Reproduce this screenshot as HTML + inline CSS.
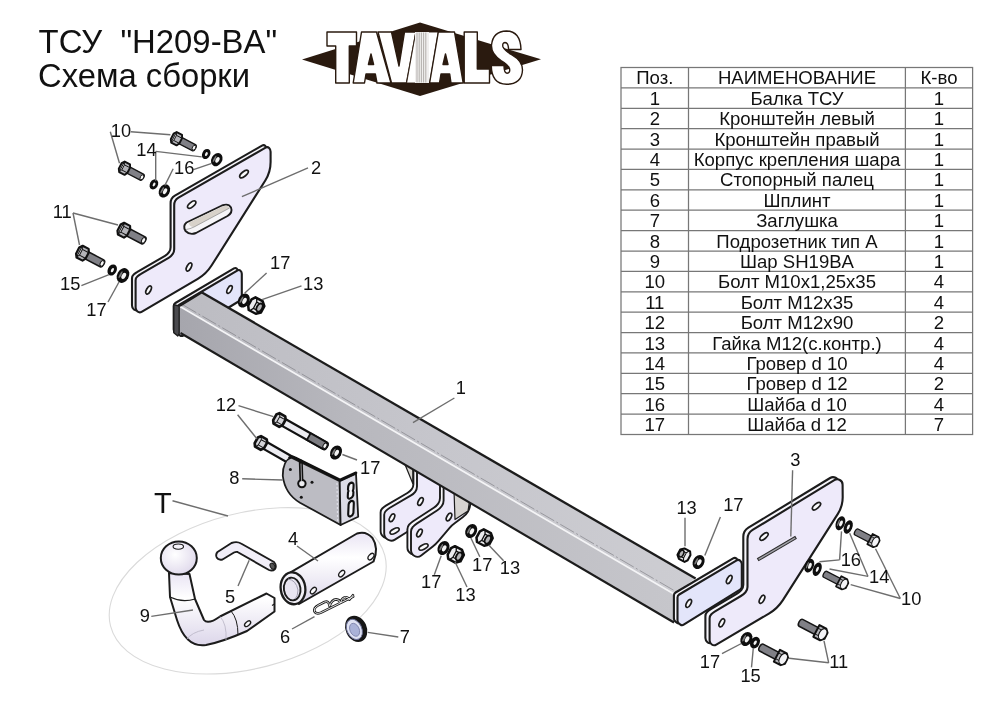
<!DOCTYPE html>
<html><head><meta charset="utf-8"><title>ТСУ H209-BA</title>
<style>html,body{margin:0;padding:0;background:#fff;}body{width:1000px;height:707px;overflow:hidden;font-family:"Liberation Sans",sans-serif;}svg{display:block;filter:blur(0.35px);}</style></head>
<body>
<svg width="1000" height="707" viewBox="0 0 1000 707" font-family="'Liberation Sans', sans-serif" fill="#111">
<defs>
<linearGradient id="gTop" x1="0" y1="0" x2="1" y2="0">
 <stop offset="0" stop-color="#bcbcc2"/><stop offset="0.5" stop-color="#c6c6cc"/><stop offset="1" stop-color="#cdcdd2"/>
</linearGradient>
<linearGradient id="gFront" x1="0" y1="0" x2="1" y2="0">
 <stop offset="0" stop-color="#a6a6ad"/><stop offset="0.35" stop-color="#b8b8be"/><stop offset="1" stop-color="#c6c6cb"/>
</linearGradient>
<linearGradient id="gTube" x1="0" y1="0" x2="0" y2="1">
 <stop offset="0" stop-color="#e9e4f4"/><stop offset="0.35" stop-color="#ffffff"/><stop offset="1" stop-color="#dcd6ea"/>
</linearGradient>
<radialGradient id="gBall" cx="0.4" cy="0.4" r="0.7">
 <stop offset="0" stop-color="#ffffff"/><stop offset="1" stop-color="#ddd6ea"/>
</radialGradient>
<!-- bolt: head at origin, shaft toward +x -->
<g id="bolt">
 <path d="M4 -4.3 L24 -4.3 A2.4 4.3 0 0 1 24 4.3 L4 4.3 Z" fill="#808086" stroke="#151515" stroke-width="1.7"/>
 <ellipse cx="24.2" cy="0" rx="2" ry="3.3" fill="#f6f6f6" stroke="#151515" stroke-width="1.1"/>
 <path d="M-4 -7.4 L3.5 -7.4 L5.5 -3.8 L5.5 3.8 L3.5 7.4 L-4 7.4 L-6.5 3.8 L-6.5 -3.8 Z" fill="#b4b4b9" stroke="#111" stroke-width="2.4" stroke-linejoin="round"/>
 <path d="M-4.2 -7 L-2.4 -3.6 L-2.4 3.6 L-4.2 7 Z" fill="#ececef" stroke="#111" stroke-width="1.1" stroke-linejoin="round"/>
 <path d="M-2.4 -3.6 L5 -3.6 M-2.4 3.6 L5 3.6" fill="none" stroke="#111" stroke-width="1.1"/>
</g>
<g id="boltR">
 <path d="M-25 -4.3 L-3 -4.3 L-3 4.3 L-25 4.3 A2.2 4.3 0 0 1 -25 -4.3 Z" fill="#808086" stroke="#151515" stroke-width="1.7"/>
 <path d="M-5.5 -7.4 L3 -7.4 L6.5 -3.8 L6.5 3.8 L3 7.4 L-5.5 7.4 Z" fill="#b4b4b9" stroke="#111" stroke-width="2.2" stroke-linejoin="round"/>
 <path d="M-5.5 -3.6 L0 -3.6 M-5.5 3.6 L0 3.6" stroke="#111" stroke-width="1"/>
 <ellipse cx="2.4" cy="0" rx="4" ry="6.6" fill="#f3f3f6" stroke="#111" stroke-width="1.3"/>
</g>
<g id="wS"><ellipse rx="4.2" ry="5.6" fill="#0e0e0e"/><ellipse cx="0.2" cy="0" rx="1.25" ry="2.2" fill="#f2f2f2"/></g>
<g id="wL"><ellipse rx="5.6" ry="7.4" fill="#0e0e0e"/><ellipse cx="-2.4" cy="0.4" rx="0.9" ry="3.6" fill="#7a7a7a"/><ellipse cx="0.8" cy="0" rx="1.9" ry="3.2" fill="#f4f4f4"/></g>
<g id="nut">
 <path d="M-5 -7.2 L3 -7.2 L7 -3.6 L7 3.6 L3 7.2 L-5 7.2 L-7.5 3.6 L-7.5 -3.6 Z" fill="#ececef" stroke="#0e0e0e" stroke-width="2.5" stroke-linejoin="round"/>
 <path d="M-3.4 -7 L-1.6 -3.5 L-1.6 3.5 L-3.4 7 M-1.6 -3.5 L6 -3.5 M-1.6 3.5 L6 3.5" fill="none" stroke="#0e0e0e" stroke-width="1.3"/>
 <ellipse cx="3.4" cy="0" rx="2.7" ry="4.4" fill="#b5b5b8" stroke="#0e0e0e" stroke-width="1.9"/>
</g>
</defs>
<ellipse cx="247.7" cy="590.8" rx="141.6" ry="77.8" transform="rotate(-14.45 247.7 590.8)" fill="none" stroke="#dadada" stroke-width="1.1"/>
<path d="M173.7 306.0 Q173.7 304.0 175.4 303.0 L234.0 268.4 Q235.6 267.5 236.9 268.8 L236.9 268.8 Q238.2 270.0 238.2 271.8 L238.2 295.5 Q238.2 297.5 236.5 298.5 L179.6 333.5 Q177.9 334.5 176.3 333.3 L175.3 332.7 Q173.7 331.5 173.7 329.5 Z" fill="#f7f6fb" stroke="#1c1c1c" stroke-width="2.1" stroke-linejoin="round"/>
<path d="M177.3 308.0 Q177.3 306.0 179.0 305.0 L237.6 270.4 Q239.2 269.5 240.5 270.8 L240.5 270.8 Q241.8 272.0 241.8 273.8 L241.8 297.5 Q241.8 299.5 240.1 300.5 L183.2 335.5 Q181.5 336.5 179.9 335.3 L178.9 334.7 Q177.3 333.5 177.3 331.5 Z" fill="#e3e5fa" stroke="#1c1c1c" stroke-width="2.1" stroke-linejoin="round"/>
<ellipse cx="229.5" cy="289.5" rx="2.0" ry="4.2" transform="rotate(28 229.5 289.5)" fill="#fbfbfd" stroke="#1c1c1c" stroke-width="1.7"/>
<path d="M404 462 L413 468 L413 484 Z" fill="#d9d6d2" stroke="#1c1c1c" stroke-width="1.2"/>
<path d="M413.4 461.6 Q413.4 457.6 416.9 459.5 L442.9 473.7 Q446.4 475.6 446.4 479.6 L446.4 493.6 Q446.4 497.6 443.3 500.1 L429.5 511.1 Q426.4 513.6 423.1 515.9 L409.7 525.3 Q406.4 527.6 403.0 529.8 L391.3 537.2 Q387.9 539.4 384.5 537.4 L384.0 537.1 Q380.6 535.1 380.6 531.1 L380.6 512.4 Q380.6 510.1 382.2 508.5 L382.2 508.5 Q383.9 506.8 385.9 505.6 L407.4 493.0 Q409.9 491.6 411.6 489.4 L411.6 489.4 Q413.4 487.1 413.4 484.2 Z" fill="#f7f6fb" stroke="#1c1c1c" stroke-width="1.9" stroke-linejoin="round"/>
<path d="M417.0 464.0 Q417.0 460.0 420.5 461.9 L446.5 476.1 Q450.0 478.0 450.0 482.0 L450.0 496.0 Q450.0 500.0 446.9 502.5 L433.1 513.5 Q430.0 516.0 426.7 518.3 L413.3 527.7 Q410.0 530.0 406.6 532.2 L394.9 539.6 Q391.5 541.8 388.1 539.8 L387.6 539.5 Q384.2 537.5 384.2 533.5 L384.2 514.8 Q384.2 512.5 385.9 510.9 L385.9 510.9 Q387.5 509.2 389.5 508.0 L411.0 495.4 Q413.5 494.0 415.2 491.8 L415.2 491.8 Q417.0 489.5 417.0 486.6 Z" fill="#eeeafa" stroke="#1c1c1c" stroke-width="1.9" stroke-linejoin="round"/>
<ellipse cx="420.5" cy="501.5" rx="2.1" ry="4.2" transform="rotate(28 420.5 501.5)" fill="#fbfbfd" stroke="#1c1c1c" stroke-width="1.7"/>
<ellipse cx="392.0" cy="517.8" rx="2.1" ry="4.2" transform="rotate(28 392.0 517.8)" fill="#fbfbfd" stroke="#1c1c1c" stroke-width="1.7"/>
<ellipse cx="394.6" cy="531.0" rx="2.2" ry="5.0" transform="rotate(62 394.6 531.0)" fill="#fbfbfd" stroke="#1c1c1c" stroke-width="1.7"/>
<path d="M440.0 481.6 Q440.0 477.6 443.4 479.7 L464.0 492.5 Q467.4 494.6 467.0 498.6 L466.8 501.6 Q466.4 505.6 464.4 509.1 L464.4 509.1 Q462.4 512.6 459.1 514.9 L451.7 520.3 Q448.4 522.6 445.8 525.7 L435.0 538.5 Q432.4 541.6 429.2 544.1 L417.6 553.1 Q414.4 555.6 410.9 553.6 L410.9 553.6 Q407.4 551.6 407.4 547.6 L407.4 529.3 Q407.4 526.6 409.1 524.6 L409.1 524.6 Q410.9 522.6 413.1 521.2 L433.8 507.8 Q436.4 506.1 438.2 503.6 L438.2 503.6 Q440.0 501.1 440.0 498.0 Z" fill="#f7f6fb" stroke="#1c1c1c" stroke-width="1.9" stroke-linejoin="round"/>
<path d="M443.6 484.0 Q443.6 480.0 447.0 482.1 L467.6 494.9 Q471.0 497.0 470.6 501.0 L470.4 504.0 Q470.0 508.0 468.0 511.5 L468.0 511.5 Q466.0 515.0 462.7 517.3 L455.3 522.7 Q452.0 525.0 449.4 528.1 L438.6 540.9 Q436.0 544.0 432.8 546.5 L421.2 555.5 Q418.0 558.0 414.5 556.0 L414.5 556.0 Q411.0 554.0 411.0 550.0 L411.0 531.7 Q411.0 529.0 412.8 527.0 L412.8 527.0 Q414.5 525.0 416.7 523.6 L437.4 510.2 Q440.0 508.5 441.8 506.0 L441.8 506.0 Q443.6 503.5 443.6 500.4 Z" fill="#eeeafa" stroke="#1c1c1c" stroke-width="1.9" stroke-linejoin="round"/>
<ellipse cx="449.0" cy="517.0" rx="2.1" ry="4.2" transform="rotate(28 449.0 517.0)" fill="#fbfbfd" stroke="#1c1c1c" stroke-width="1.7"/>
<ellipse cx="419.5" cy="533.0" rx="2.1" ry="4.2" transform="rotate(28 419.5 533.0)" fill="#fbfbfd" stroke="#1c1c1c" stroke-width="1.7"/>
<ellipse cx="423.5" cy="547.0" rx="2.2" ry="5.0" transform="rotate(62 423.5 547.0)" fill="#fbfbfd" stroke="#1c1c1c" stroke-width="1.7"/>
<path d="M454 490 L469.5 501 L468 511 L455 519.5 Z" fill="#d6d3d0" stroke="#1c1c1c" stroke-width="1.2" stroke-linejoin="round"/>
<path d="M180 306 L202 292.5 L695.6 578.5 L674 593.4 Z" fill="url(#gTop)" stroke="none"/>
<path d="M180 306 L674 593.4 L674 622.5 L180 333 Z" fill="url(#gFront)" stroke="none"/>
<path d="M182.5 304.6 L676 591.6" stroke="#6c6c72" stroke-width="0.7" stroke-opacity="0.75" stroke-dasharray="16 2.5 2 2.5" fill="none"/>
<path d="M202 292.5 L695.6 578.5" stroke="#1c1c1c" stroke-width="2.3" fill="none"/>
<path d="M180.5 333 L674 622.5" stroke="#1c1c1c" stroke-width="2.1" fill="none"/>
<path d="M180 306.6 L674 594" stroke="#f4f4f6" stroke-width="1.7" fill="none"/>
<path d="M180 306 L202 292.5" stroke="#1c1c1c" stroke-width="1.6" fill="none"/>
<path d="M173.8 304.6 L179.2 306 L179.2 333.2 L177.8 336 L173.8 332.8 Z" fill="#4a4a4e" stroke="#1c1c1c" stroke-width="1.4" stroke-linejoin="round"/>
<path d="M170.6 203.2 Q170.6 198.2 174.9 195.7 L262.0 145.6 Q263.9 144.5 265.4 146.0 L265.4 146.0 Q267.0 147.5 267.0 149.7 L267.0 160.0 Q267.0 170.0 261.7 178.5 L208.1 263.3 Q202.8 271.8 194.2 276.9 L138.0 309.8 Q135.9 311.0 134.0 309.5 L133.9 309.5 Q132.0 308.0 132.0 305.5 L132.0 278.3 Q132.0 276.0 133.7 274.5 L133.7 274.5 Q135.4 273.0 137.4 271.9 L165.0 255.9 Q167.4 254.5 169.0 252.2 L169.0 252.2 Q170.6 250.0 170.6 247.2 Z" fill="#f7f6fb" stroke="#1c1c1c" stroke-width="2.1" stroke-linejoin="round"/>
<path d="M174.2 205.2 Q174.2 200.2 178.5 197.7 L265.6 147.6 Q267.5 146.5 269.1 148.0 L269.1 148.0 Q270.6 149.5 270.6 151.7 L270.6 162.0 Q270.6 172.0 265.3 180.5 L211.7 265.3 Q206.4 273.8 197.8 278.9 L141.6 311.8 Q139.5 313.0 137.6 311.5 L137.5 311.5 Q135.6 310.0 135.6 307.5 L135.6 280.3 Q135.6 278.0 137.3 276.5 L137.3 276.5 Q139.0 275.0 141.0 273.9 L168.6 257.9 Q171.0 256.5 172.6 254.2 L172.6 254.2 Q174.2 252.0 174.2 249.2 Z" fill="#eeeafa" stroke="#1c1c1c" stroke-width="2.1" stroke-linejoin="round"/>
<ellipse cx="244.0" cy="174.0" rx="2.3" ry="5.2" transform="rotate(50 244.0 174.0)" fill="#fbfbfd" stroke="#1c1c1c" stroke-width="1.7"/>
<ellipse cx="191.7" cy="204.6" rx="2.3" ry="5.0" transform="rotate(50 191.7 204.6)" fill="#fbfbfd" stroke="#1c1c1c" stroke-width="1.7"/>
<ellipse cx="189.0" cy="267.0" rx="2.1" ry="4.4" transform="rotate(28 189.0 267.0)" fill="#fbfbfd" stroke="#1c1c1c" stroke-width="1.7"/>
<ellipse cx="148.6" cy="290.0" rx="2.1" ry="4.4" transform="rotate(28 148.6 290.0)" fill="#fbfbfd" stroke="#1c1c1c" stroke-width="1.7"/>
<path d="M186.5 222.5 L222 205.5 Q228.5 203 231 207.5 Q233 212.5 227.5 216 L196 233 Q190 235.5 185.5 231 Q182.5 226 186.5 222.5 Z" fill="#f6f5f8" stroke="#1c1c1c" stroke-width="1.9" stroke-linejoin="round"/>
<path d="M188.5 222.8 L223 206.3 Q228 204.6 229.6 208 L194 227 Q189.6 227 188.5 222.8 Z" fill="#d8d2ca" stroke="none"/>
<path d="M186 229.5 Q190 229 194 227 L229.6 208" fill="none" stroke="#8a8a8a" stroke-width="0.7"/>
<path d="M673.9 595.5 Q673.9 593.5 675.6 592.5 L733.1 558.4 Q734.9 557.3 736.5 558.6 L736.5 558.6 Q738.2 560.0 738.2 562.1 L738.2 584.5 Q738.2 586.5 736.5 587.6 L680.1 622.7 Q678.4 623.8 676.8 622.6 L675.5 621.7 Q673.9 620.5 673.9 618.5 Z" fill="#f7f6fb" stroke="#1c1c1c" stroke-width="2.1" stroke-linejoin="round"/>
<path d="M677.5 597.5 Q677.5 595.5 679.2 594.5 L736.7 560.4 Q738.5 559.3 740.1 560.6 L740.1 560.6 Q741.8 562.0 741.8 564.1 L741.8 586.5 Q741.8 588.5 740.1 589.6 L683.7 624.7 Q682.0 625.8 680.4 624.6 L679.1 623.7 Q677.5 622.5 677.5 620.5 Z" fill="#e3e5fa" stroke="#1c1c1c" stroke-width="2.1" stroke-linejoin="round"/>
<ellipse cx="688.7" cy="603.4" rx="2.1" ry="4.4" transform="rotate(28 688.7 603.4)" fill="#fbfbfd" stroke="#1c1c1c" stroke-width="1.7"/>
<ellipse cx="729.2" cy="579.5" rx="2.1" ry="4.4" transform="rotate(28 729.2 579.5)" fill="#fbfbfd" stroke="#1c1c1c" stroke-width="1.7"/>
<path d="M743.3 536.8 Q743.3 530.8 748.4 527.7 L830.1 478.0 Q832.8 476.3 835.6 477.8 L835.6 477.8 Q838.4 479.3 838.4 482.5 L838.5 494.8 Q838.6 503.8 833.8 511.4 L778.7 597.9 Q773.3 606.3 764.7 611.4 L712.1 642.4 Q709.8 643.8 707.6 642.3 L707.6 642.3 Q705.4 640.8 705.4 638.1 L705.4 616.2 Q705.4 613.8 707.1 612.0 L707.1 612.0 Q708.8 610.3 710.9 609.1 L736.7 593.8 Q739.3 592.3 741.3 590.0 L741.3 590.0 Q743.3 587.8 743.3 584.8 Z" fill="#f7f6fb" stroke="#1c1c1c" stroke-width="2.1" stroke-linejoin="round"/>
<path d="M747.5 539.0 Q747.5 533.0 752.6 529.9 L834.3 480.2 Q837.0 478.5 839.8 480.0 L839.8 480.0 Q842.6 481.5 842.6 484.7 L842.7 497.0 Q842.8 506.0 838.0 513.6 L782.9 600.1 Q777.5 608.5 768.9 613.6 L716.3 644.6 Q714.0 646.0 711.8 644.5 L711.8 644.5 Q709.6 643.0 709.6 640.3 L709.6 618.4 Q709.6 616.0 711.3 614.2 L711.3 614.2 Q713.0 612.5 715.1 611.3 L740.9 596.0 Q743.5 594.5 745.5 592.2 L745.5 592.2 Q747.5 590.0 747.5 587.0 Z" fill="#eeeafa" stroke="#1c1c1c" stroke-width="2.1" stroke-linejoin="round"/>
<ellipse cx="816.5" cy="506.2" rx="2.3" ry="5.0" transform="rotate(50 816.5 506.2)" fill="#fbfbfd" stroke="#1c1c1c" stroke-width="1.7"/>
<ellipse cx="764.0" cy="536.5" rx="2.3" ry="5.0" transform="rotate(50 764.0 536.5)" fill="#fbfbfd" stroke="#1c1c1c" stroke-width="1.7"/>
<ellipse cx="762.0" cy="599.3" rx="2.1" ry="4.4" transform="rotate(28 762.0 599.3)" fill="#fbfbfd" stroke="#1c1c1c" stroke-width="1.7"/>
<ellipse cx="721.8" cy="622.8" rx="2.1" ry="4.4" transform="rotate(28 721.8 622.8)" fill="#fbfbfd" stroke="#1c1c1c" stroke-width="1.7"/>
<path d="M757.5 558.5 L795 536.5 L796.2 538.6 L758.7 560.6 Z" fill="#a4a4aa" stroke="#2e2e2e" stroke-width="1.1"/>
<g transform="translate(261.5 443.3) rotate(29.8)"><path d="M3 -3.8 L38.6 -3.8 A2.2 3.8 0 0 1 38.6 3.8 L3 3.8 Z" fill="#ececf1" stroke="#111" stroke-width="2.2"/><path d="M-4 -6 L2.6 -6 L4.6 -3.2 L4.6 3.2 L2.6 6 L-4 6 L-6 3.2 L-6 -3.2 Z" fill="#d4d4d9" stroke="#111" stroke-width="2.7" stroke-linejoin="round"/><path d="M-3.4 -5.6 L-2 -3 L-2 3 L-3.4 5.6 M-2 -3 L4 -3 M-2 3 L4 3" fill="none" stroke="#111" stroke-width="1"/></g>
<g transform="translate(280.0 420.3) rotate(29.5)"><path d="M3 -3.8 L51.7 -3.8 A2.2 3.8 0 0 1 51.7 3.8 L3 3.8 Z" fill="#ececf1" stroke="#111" stroke-width="2.2"/><path d="M33.0 -3.8 L51.7 -3.8 A2.2 3.8 0 0 1 51.7 3.8 L33.0 3.8 Z" fill="#7d7d82" stroke="#111" stroke-width="1.8"/><ellipse cx="51.7" cy="0" rx="1.8" ry="2.9" fill="#f4f4f4" stroke="#111" stroke-width="1"/><path d="M-4 -6 L2.6 -6 L4.6 -3.2 L4.6 3.2 L2.6 6 L-4 6 L-6 3.2 L-6 -3.2 Z" fill="#d4d4d9" stroke="#111" stroke-width="2.7" stroke-linejoin="round"/><path d="M-3.4 -5.6 L-2 -3 L-2 3 L-3.4 5.6 M-2 -3 L4 -3 M-2 3 L4 3" fill="none" stroke="#111" stroke-width="1"/></g>
<use href="#wL" transform="translate(336.0 452.5) rotate(28.0) scale(1.00)"/>
<path d="M291 457.5 L339.7 481.2 L340.6 525 L300 502.7 Q285 494 282.8 476 Q282.6 461 291 457.5 Z" fill="#bcbcc3" stroke="#1c1c1c" stroke-width="1.8" stroke-linejoin="round"/>
<path d="M339.7 481.2 L356 473.8 L358.2 516.8 L340.6 525 Z" fill="#dcdce6" stroke="#1c1c1c" stroke-width="1.8" stroke-linejoin="round"/>
<path d="M337 483 L337.6 522" stroke="#dfdfe8" stroke-width="1.2" stroke-dasharray="2 2"/>
<path d="M289.5 457.6 Q292 456 295 457.8 L340 480 L356 472.8" fill="none" stroke="#111" stroke-width="2.7" stroke-linejoin="round" stroke-linecap="round"/>
<path d="M348.2 486.5 Q348.6 483.6 351.4 482.6 Q353.8 482.6 353.6 485.6 L353.4 489 Q352.4 490.6 353.4 492 L353.2 495.4 Q352.4 498 349.6 498.8 Q347.4 498.6 347.8 496 L348 492.4 Q349 491 348 489.6 Z" fill="#f3f3f7" stroke="#111" stroke-width="2.1" stroke-linejoin="round"/>
<path d="M348.6 504.6 Q349 501.8 351.6 500.8 Q354 500.8 353.8 503.6 L353.4 513 Q352.8 515.8 350.2 516.6 Q348 516.4 348.2 513.8 Z" fill="#f3f3f7" stroke="#111" stroke-width="2.1" stroke-linejoin="round"/>
<path d="M300.8 461.5 L301.4 480" stroke="#111" stroke-width="4" stroke-linecap="round"/>
<circle cx="301.9" cy="483.6" r="3.7" fill="#ededf1" stroke="#111" stroke-width="2"/>
<path d="M301 464 L301.6 481.5" stroke="#d0d0d6" stroke-width="0.7" stroke-linecap="round"/>
<circle cx="290.4" cy="469.6" r="1.5" fill="#151515"/>
<circle cx="312.0" cy="482.3" r="1.5" fill="#151515"/>
<circle cx="301.3" cy="497.3" r="1.5" fill="#151515"/>
<path d="M169 573 L170 597 L177 620 Q186 648 206 645 Q222 642 247 631 L274.5 611.5 L274.5 598 L266.5 593.5 L220 616.5 Q208 625 204 620 L195 599 L189.5 574 Z" fill="url(#gTube)" stroke="#1c1c1c" stroke-width="2.0" stroke-linejoin="round"/>
<path d="M170 597 Q182 603 195 599" fill="none" stroke="#1c1c1c" stroke-width="1.3"/>
<path d="M186 640 Q192 632 204 630" fill="none" stroke="#b8b4c4" stroke-width="0.8"/>
<path d="M220 616.5 Q227 624 226 640" fill="none" stroke="#b8b4c4" stroke-width="0.8"/>
<path d="M231 611 Q238 619 238 635" fill="none" stroke="#1c1c1c" stroke-width="1.0"/>
<ellipse cx="178.8" cy="558" rx="18" ry="16.6" fill="url(#gBall)" stroke="#1c1c1c" stroke-width="2.0"/>
<ellipse cx="178.3" cy="546.6" rx="5.2" ry="2.6" fill="#f6f4fa" stroke="#1c1c1c" stroke-width="1.1"/>
<ellipse cx="247.6" cy="623.7" rx="2.0" ry="3.6" transform="rotate(50 247.6 623.7)" fill="#fbfbfd" stroke="#1c1c1c" stroke-width="1.3"/>
<path d="M274.5 604 L272 605.5" stroke="#1c1c1c" stroke-width="1.3"/>
<path d="M217.5 552 L231.5 543 Q237 541 241 543.5 L274 562 Q277 565.5 275 569 Q272.5 571.5 269 570 L237.5 552 Q236 551.5 234 552.5 L222.5 559.5 Q218 560.5 216.5 557 Q215.5 554 217.5 552 Z" fill="#f1eef8" stroke="#1c1c1c" stroke-width="1.9" stroke-linejoin="round"/>
<ellipse cx="272.5" cy="566.2" rx="2.2" ry="3.2" transform="rotate(-30 272.5 566.2)" fill="#555" stroke="#1c1c1c" stroke-width="1"/>
<path d="M290.5 572.4 L357 533.5 Q366 530.5 372.5 538 Q379 548 373.5 561.5 L299 604 Z" fill="url(#gTube)" stroke="#1c1c1c" stroke-width="2.0" stroke-linejoin="round"/>
<ellipse cx="293" cy="588.3" rx="12.3" ry="16" transform="rotate(-8 293 588.3)" fill="#f3f1f8" stroke="#1c1c1c" stroke-width="2.3"/>
<ellipse cx="292.2" cy="589" rx="8.3" ry="11.4" transform="rotate(-8 292.2 589)" fill="#e9e5f1" stroke="#1c1c1c" stroke-width="1.9"/>
<path d="M288 579 Q296 580 298 590 Q298 596 295 599" fill="none" stroke="#9a96a8" stroke-width="0.9"/>
<ellipse cx="313.4" cy="590.6" rx="2.2" ry="3.8" transform="rotate(40 313.4 590.6)" fill="#fbfbfd" stroke="#1c1c1c" stroke-width="1.3"/>
<ellipse cx="341.7" cy="573.6" rx="2.2" ry="3.8" transform="rotate(40 341.7 573.6)" fill="#fbfbfd" stroke="#1c1c1c" stroke-width="1.3"/>
<ellipse cx="371.0" cy="556.6" rx="2.2" ry="3.8" transform="rotate(40 371.0 556.6)" fill="#fbfbfd" stroke="#1c1c1c" stroke-width="1.3"/>
<path d="M353.2 596.6 L321 612.6 Q316 614.6 314.4 611.4 Q313.6 607.6 318 605.4 L324.6 602 Q329 600.4 329.6 606.2 Q331.6 599.6 336.2 599.4 Q340 599.6 340.4 603 Q342 597.2 345.4 597.2 Q348.8 597.2 349.4 599.8 L353 595.2" fill="none" stroke="#1e1e1e" stroke-width="2.6" stroke-linejoin="round" stroke-linecap="round"/>
<path d="M353.2 596.6 L321 612.6 Q316 614.6 314.4 611.4 Q313.6 607.6 318 605.4 L324.6 602 Q329 600.4 329.6 606.2 Q331.6 599.6 336.2 599.4 Q340 599.6 340.4 603 Q342 597.2 345.4 597.2 Q348.8 597.2 349.4 599.8 L353 595.2" fill="none" stroke="#f4f4f4" stroke-width="0.9" stroke-linejoin="round" stroke-linecap="round"/>
<ellipse cx="356.2" cy="628.8" rx="10.6" ry="13.6" transform="rotate(-25 356.2 628.8)" fill="#161616"/>
<ellipse cx="354.4" cy="629.4" rx="7.4" ry="10.6" transform="rotate(-25 354.4 629.4)" fill="#dfe2f3" stroke="#6a6f95" stroke-width="0.9"/>
<ellipse cx="354.6" cy="629.8" rx="4.6" ry="6.8" transform="rotate(-25 354.6 629.8)" fill="#aab2d8" stroke="#7a80a8" stroke-width="0.8"/>
<use href="#bolt" transform="translate(176.8 138.8) rotate(27.5) scale(0.80)"/>
<use href="#bolt" transform="translate(124.8 168.3) rotate(27.5) scale(0.80)"/>
<use href="#wS" transform="translate(206.2 154.0) rotate(28.0) scale(0.95)"/>
<use href="#wL" transform="translate(216.8 159.6) rotate(28.0) scale(0.95)"/>
<use href="#wS" transform="translate(153.9 184.4) rotate(28.0) scale(0.95)"/>
<use href="#wL" transform="translate(164.4 190.9) rotate(28.0) scale(0.95)"/>
<use href="#bolt" transform="translate(124.2 230.3) rotate(27.5) scale(0.90)"/>
<use href="#bolt" transform="translate(82.8 253.3) rotate(27.5) scale(0.90)"/>
<use href="#wS" transform="translate(112.2 270.0) rotate(28.0) scale(1.05)"/>
<use href="#wL" transform="translate(123.0 275.5) rotate(28.0) scale(1.05)"/>
<use href="#wL" transform="translate(243.8 300.5) rotate(28.0) scale(1.00)"/>
<use href="#nut" transform="translate(256.5 306.0) rotate(28.0) scale(1.00)"/>
<use href="#wL" transform="translate(471.2 531.0) rotate(28.0) scale(1.00)"/>
<use href="#nut" transform="translate(484.8 538.0) rotate(28.0) scale(1.00)"/>
<use href="#wL" transform="translate(443.5 548.0) rotate(28.0) scale(1.00)"/>
<use href="#nut" transform="translate(456.0 554.9) rotate(28.0) scale(1.00)"/>
<g transform="translate(683.8 554.8) rotate(28) scale(-0.8 0.82)"><use href="#nut"/></g>
<use href="#wL" transform="translate(698.6 562.0) rotate(28.0) scale(1.00)"/>
<use href="#wL" transform="translate(840.4 523.2) rotate(22.0) scale(0.80 0.98)"/>
<use href="#wS" transform="translate(848.2 527.0) rotate(22.0) scale(0.98 1.25)"/>
<use href="#boltR" transform="translate(873.8 541.0) rotate(27.5) scale(0.78)"/>
<use href="#wL" transform="translate(809.3 565.6) rotate(22.0) scale(0.80 0.98)"/>
<use href="#wS" transform="translate(817.2 569.2) rotate(22.0) scale(0.98 1.25)"/>
<use href="#boltR" transform="translate(842.5 583.3) rotate(27.5) scale(0.78)"/>
<use href="#boltR" transform="translate(820.8 633.2) rotate(27.5) scale(0.90)"/>
<use href="#boltR" transform="translate(781.3 658.0) rotate(27.5) scale(0.90)"/>
<use href="#wL" transform="translate(746.4 639.0) rotate(28.0) scale(1.00)"/>
<use href="#wS" transform="translate(755.0 642.6) rotate(28.0) scale(1.10)"/>
<line x1="130.9" y1="131.7" x2="170.4" y2="134.8" stroke="#6e6e6e" stroke-width="1.4"/>
<line x1="110.3" y1="131.7" x2="119.5" y2="163.3" stroke="#6e6e6e" stroke-width="1.4"/>
<line x1="155.7" y1="151.4" x2="201.7" y2="156.9" stroke="#6e6e6e" stroke-width="1.4"/>
<line x1="155.7" y1="151.4" x2="155.7" y2="180.8" stroke="#6e6e6e" stroke-width="1.4"/>
<line x1="193.4" y1="169.7" x2="211.8" y2="163.3" stroke="#6e6e6e" stroke-width="1.4"/>
<line x1="173.2" y1="168.8" x2="164.9" y2="185.4" stroke="#6e6e6e" stroke-width="1.4"/>
<line x1="73.0" y1="213.0" x2="118.0" y2="225.0" stroke="#6e6e6e" stroke-width="1.4"/>
<line x1="73.0" y1="213.0" x2="79.5" y2="245.0" stroke="#6e6e6e" stroke-width="1.4"/>
<line x1="81.4" y1="285.6" x2="109.0" y2="274.6" stroke="#6e6e6e" stroke-width="1.4"/>
<line x1="108.0" y1="302.0" x2="119.0" y2="282.0" stroke="#6e6e6e" stroke-width="1.4"/>
<line x1="308.0" y1="167.9" x2="241.9" y2="196.7" stroke="#6e6e6e" stroke-width="1.4"/>
<line x1="266.6" y1="273.0" x2="244.6" y2="293.2" stroke="#6e6e6e" stroke-width="1.4"/>
<line x1="301.5" y1="285.8" x2="262.0" y2="299.6" stroke="#6e6e6e" stroke-width="1.4"/>
<line x1="454.4" y1="398.0" x2="413.0" y2="422.7" stroke="#6e6e6e" stroke-width="1.4"/>
<line x1="238.5" y1="405.6" x2="273.4" y2="416.7" stroke="#6e6e6e" stroke-width="1.4"/>
<line x1="237.6" y1="414.8" x2="256.9" y2="438.7" stroke="#6e6e6e" stroke-width="1.4"/>
<line x1="242.2" y1="478.8" x2="282.6" y2="480.0" stroke="#6e6e6e" stroke-width="1.4"/>
<line x1="342.4" y1="454.5" x2="357.0" y2="460.0" stroke="#6e6e6e" stroke-width="1.4"/>
<line x1="172.5" y1="500.8" x2="228.0" y2="516.0" stroke="#6e6e6e" stroke-width="1.4"/>
<line x1="297.0" y1="546.0" x2="318.0" y2="561.0" stroke="#6e6e6e" stroke-width="1.4"/>
<line x1="238.0" y1="586.0" x2="249.2" y2="560.2" stroke="#6e6e6e" stroke-width="1.4"/>
<line x1="151.3" y1="616.4" x2="193.0" y2="610.0" stroke="#6e6e6e" stroke-width="1.4"/>
<line x1="292.0" y1="629.0" x2="314.5" y2="616.6" stroke="#6e6e6e" stroke-width="1.4"/>
<line x1="367.7" y1="632.4" x2="398.3" y2="637.0" stroke="#6e6e6e" stroke-width="1.4"/>
<line x1="470.9" y1="538.0" x2="479.8" y2="556.8" stroke="#6e6e6e" stroke-width="1.4"/>
<line x1="488.7" y1="545.0" x2="503.6" y2="560.8" stroke="#6e6e6e" stroke-width="1.4"/>
<line x1="441.2" y1="555.8" x2="434.3" y2="574.7" stroke="#6e6e6e" stroke-width="1.4"/>
<line x1="455.0" y1="561.8" x2="467.0" y2="587.0" stroke="#6e6e6e" stroke-width="1.4"/>
<line x1="685.0" y1="517.8" x2="685.0" y2="546.3" stroke="#6e6e6e" stroke-width="1.4"/>
<line x1="720.4" y1="516.9" x2="704.8" y2="555.5" stroke="#6e6e6e" stroke-width="1.4"/>
<line x1="792.6" y1="470.3" x2="790.8" y2="536.5" stroke="#6e6e6e" stroke-width="1.4"/>
<line x1="839.6" y1="559.9" x2="841.5" y2="531.4" stroke="#6e6e6e" stroke-width="1.4"/>
<line x1="839.6" y1="559.9" x2="819.4" y2="561.7" stroke="#6e6e6e" stroke-width="1.4"/>
<line x1="868.0" y1="576.4" x2="849.7" y2="533.2" stroke="#6e6e6e" stroke-width="1.4"/>
<line x1="868.0" y1="576.4" x2="829.5" y2="569.0" stroke="#6e6e6e" stroke-width="1.4"/>
<line x1="900.3" y1="598.5" x2="875.5" y2="548.8" stroke="#6e6e6e" stroke-width="1.4"/>
<line x1="900.3" y1="598.5" x2="850.7" y2="584.7" stroke="#6e6e6e" stroke-width="1.4"/>
<line x1="722.0" y1="653.6" x2="741.4" y2="643.5" stroke="#6e6e6e" stroke-width="1.4"/>
<line x1="751.5" y1="667.4" x2="753.3" y2="648.0" stroke="#6e6e6e" stroke-width="1.4"/>
<line x1="828.7" y1="662.8" x2="824.0" y2="640.8" stroke="#6e6e6e" stroke-width="1.4"/>
<line x1="828.7" y1="662.8" x2="789.0" y2="658.2" stroke="#6e6e6e" stroke-width="1.4"/>
<text x="121.0" y="136.6" font-size="18.3" text-anchor="middle">10</text>
<text x="146.5" y="156.2" font-size="18.3" text-anchor="middle">14</text>
<text x="184.2" y="174.4" font-size="18.3" text-anchor="middle">16</text>
<text x="62.2" y="217.6" font-size="18.3" text-anchor="middle">11</text>
<text x="70.2" y="290.1" font-size="18.3" text-anchor="middle">15</text>
<text x="96.5" y="315.9" font-size="18.3" text-anchor="middle">17</text>
<text x="316.2" y="173.8" font-size="18.3" text-anchor="middle">2</text>
<text x="280.2" y="269.2" font-size="18.3" text-anchor="middle">17</text>
<text x="313.2" y="290.3" font-size="18.3" text-anchor="middle">13</text>
<text x="460.8" y="394.1" font-size="18.3" text-anchor="middle">1</text>
<text x="225.9" y="411.0" font-size="18.3" text-anchor="middle">12</text>
<text x="234.4" y="483.6" font-size="18.3" text-anchor="middle">8</text>
<text x="370.2" y="473.5" font-size="18.3" text-anchor="middle">17</text>
<text x="293.2" y="544.9" font-size="18.3" text-anchor="middle">4</text>
<text x="230.0" y="602.6" font-size="18.3" text-anchor="middle">5</text>
<text x="144.9" y="621.9" font-size="18.3" text-anchor="middle">9</text>
<text x="285.2" y="642.6" font-size="18.3" text-anchor="middle">6</text>
<text x="404.9" y="642.6" font-size="18.3" text-anchor="middle">7</text>
<text x="482.2" y="571.4" font-size="18.3" text-anchor="middle">17</text>
<text x="509.9" y="574.4" font-size="18.3" text-anchor="middle">13</text>
<text x="431.2" y="588.4" font-size="18.3" text-anchor="middle">17</text>
<text x="465.5" y="601.3" font-size="18.3" text-anchor="middle">13</text>
<text x="686.6" y="513.9" font-size="18.3" text-anchor="middle">13</text>
<text x="733.3" y="511.1" font-size="18.3" text-anchor="middle">17</text>
<text x="795.4" y="465.5" font-size="18.3" text-anchor="middle">3</text>
<text x="850.8" y="566.1" font-size="18.3" text-anchor="middle">16</text>
<text x="879.2" y="582.7" font-size="18.3" text-anchor="middle">14</text>
<text x="911.2" y="604.7" font-size="18.3" text-anchor="middle">10</text>
<text x="710.0" y="668.1" font-size="18.3" text-anchor="middle">17</text>
<text x="750.6" y="681.9" font-size="18.3" text-anchor="middle">15</text>
<text x="838.8" y="668.1" font-size="18.3" text-anchor="middle">11</text>
<text x="153.9" y="512.8" font-size="29">T</text>
<g stroke="#777777" stroke-width="1.25" fill="none">
<rect x="621.0" y="67.5" width="351.6" height="367.0" fill="#fff"/>
<line x1="621.0" y1="87.89" x2="972.6" y2="87.89"/>
<line x1="621.0" y1="108.28" x2="972.6" y2="108.28"/>
<line x1="621.0" y1="128.67" x2="972.6" y2="128.67"/>
<line x1="621.0" y1="149.06" x2="972.6" y2="149.06"/>
<line x1="621.0" y1="169.45" x2="972.6" y2="169.45"/>
<line x1="621.0" y1="189.84" x2="972.6" y2="189.84"/>
<line x1="621.0" y1="210.23" x2="972.6" y2="210.23"/>
<line x1="621.0" y1="230.62" x2="972.6" y2="230.62"/>
<line x1="621.0" y1="251.01" x2="972.6" y2="251.01"/>
<line x1="621.0" y1="271.40" x2="972.6" y2="271.40"/>
<line x1="621.0" y1="291.79" x2="972.6" y2="291.79"/>
<line x1="621.0" y1="312.18" x2="972.6" y2="312.18"/>
<line x1="621.0" y1="332.57" x2="972.6" y2="332.57"/>
<line x1="621.0" y1="352.96" x2="972.6" y2="352.96"/>
<line x1="621.0" y1="373.35" x2="972.6" y2="373.35"/>
<line x1="621.0" y1="393.74" x2="972.6" y2="393.74"/>
<line x1="621.0" y1="414.13" x2="972.6" y2="414.13"/>
<line x1="688.5" y1="67.5" x2="688.5" y2="434.5"/>
<line x1="905.4" y1="67.5" x2="905.4" y2="434.5"/>
</g>
<g font-size="18.3" text-anchor="middle">
<text transform="translate(654.8 84.49) scale(1.015 1)">Поз.</text>
<text transform="translate(797.0 84.49) scale(1.015 1)">НАИМЕНОВАНИЕ</text>
<text transform="translate(939.0 84.49) scale(1.015 1)">К-во</text>
<text transform="translate(654.8 104.88) scale(1.015 1)">1</text>
<text transform="translate(797.0 104.88) scale(1.015 1)">Балка ТСУ</text>
<text transform="translate(939.0 104.88) scale(1.015 1)">1</text>
<text transform="translate(654.8 125.27) scale(1.015 1)">2</text>
<text transform="translate(797.0 125.27) scale(1.015 1)">Кронштейн левый</text>
<text transform="translate(939.0 125.27) scale(1.015 1)">1</text>
<text transform="translate(654.8 145.66) scale(1.015 1)">3</text>
<text transform="translate(797.0 145.66) scale(1.015 1)">Кронштейн правый</text>
<text transform="translate(939.0 145.66) scale(1.015 1)">1</text>
<text transform="translate(654.8 166.05) scale(1.015 1)">4</text>
<text transform="translate(797.0 166.05) scale(1.015 1)">Корпус крепления шара</text>
<text transform="translate(939.0 166.05) scale(1.015 1)">1</text>
<text transform="translate(654.8 186.44) scale(1.015 1)">5</text>
<text transform="translate(797.0 186.44) scale(1.015 1)">Стопорный палец</text>
<text transform="translate(939.0 186.44) scale(1.015 1)">1</text>
<text transform="translate(654.8 206.83) scale(1.015 1)">6</text>
<text transform="translate(797.0 206.83) scale(1.015 1)">Шплинт</text>
<text transform="translate(939.0 206.83) scale(1.015 1)">1</text>
<text transform="translate(654.8 227.22) scale(1.015 1)">7</text>
<text transform="translate(797.0 227.22) scale(1.015 1)">Заглушка</text>
<text transform="translate(939.0 227.22) scale(1.015 1)">1</text>
<text transform="translate(654.8 247.61) scale(1.015 1)">8</text>
<text transform="translate(797.0 247.61) scale(1.015 1)">Подрозетник тип А</text>
<text transform="translate(939.0 247.61) scale(1.015 1)">1</text>
<text transform="translate(654.8 268.00) scale(1.015 1)">9</text>
<text transform="translate(797.0 268.00) scale(1.015 1)">Шар SH19BA</text>
<text transform="translate(939.0 268.00) scale(1.015 1)">1</text>
<text transform="translate(654.8 288.39) scale(1.015 1)">10</text>
<text transform="translate(797.0 288.39) scale(1.015 1)">Болт М10х1,25х35</text>
<text transform="translate(939.0 288.39) scale(1.015 1)">4</text>
<text transform="translate(654.8 308.78) scale(1.015 1)">11</text>
<text transform="translate(797.0 308.78) scale(1.015 1)">Болт М12х35</text>
<text transform="translate(939.0 308.78) scale(1.015 1)">4</text>
<text transform="translate(654.8 329.17) scale(1.015 1)">12</text>
<text transform="translate(797.0 329.17) scale(1.015 1)">Болт М12х90</text>
<text transform="translate(939.0 329.17) scale(1.015 1)">2</text>
<text transform="translate(654.8 349.56) scale(1.015 1)">13</text>
<text transform="translate(797.0 349.56) scale(1.015 1)">Гайка М12(с.контр.)</text>
<text transform="translate(939.0 349.56) scale(1.015 1)">4</text>
<text transform="translate(654.8 369.95) scale(1.015 1)">14</text>
<text transform="translate(797.0 369.95) scale(1.015 1)">Гровер d 10</text>
<text transform="translate(939.0 369.95) scale(1.015 1)">4</text>
<text transform="translate(654.8 390.34) scale(1.015 1)">15</text>
<text transform="translate(797.0 390.34) scale(1.015 1)">Гровер d 12</text>
<text transform="translate(939.0 390.34) scale(1.015 1)">2</text>
<text transform="translate(654.8 410.73) scale(1.015 1)">16</text>
<text transform="translate(797.0 410.73) scale(1.015 1)">Шайба d 10</text>
<text transform="translate(939.0 410.73) scale(1.015 1)">4</text>
<text transform="translate(654.8 431.12) scale(1.015 1)">17</text>
<text transform="translate(797.0 431.12) scale(1.015 1)">Шайба d 12</text>
<text transform="translate(939.0 431.12) scale(1.015 1)">7</text>
</g>
<text x="38.6" y="53.4" font-size="32.4" textLength="238.5" lengthAdjust="spacingAndGlyphs" xml:space="preserve">ТСУ  "H209-BA"</text>
<text x="38" y="86.5" font-size="32.4" textLength="212" lengthAdjust="spacingAndGlyphs">Схема сборки</text>
<path d="M302 59.5 L420 22.6 L541 59.3 L420 96 Z" fill="#2a1a0f"/>
<g fill="#fff" stroke="#2a1a0f" stroke-width="1.4" stroke-linejoin="round"><path d="M327 32 L356.5 32 L356.5 46 L349.3 46 L349.3 83 L335.7 83 L335.7 46 L327 46 Z"/><path d="M361.5 32 L376.5 32 L391 83 L377 83 L375.3 74 L366 74 L364.5 83 L353.2 83 Z M368.4 64.5 L373.6 64.5 L371 54 Z"/><path d="M378 32 L391.5 32 L399 66 L404.5 32 L416 32 L406.5 83 L391.5 83 Z"/><path d="M415.8 32 L438.3 32 L429.7 83 L406.6 83 Z" stroke-width="0.9"/><path d="M415 32 L429 32 L429 83 L415 83 Z" fill="#f0efee" stroke="none"/><path d="M438.3 32 L454.5 32 L463.2 83 L451 83 L449.7 74 L441 74 L439.5 83 L429.6 83 Z M443 64.5 L448 64.5 L445.5 54 Z"/><path d="M464.2 32 L477.3 32 L477.3 69 L489.5 69 L489.5 83 L464.2 83 Z"/><path d="M521 49.5 L508.5 49.5 Q508.5 42.5 505 42.5 Q502 42.8 503 47 Q505 51 512 55 Q522.5 61 522.5 70 Q522 84 506.5 84.3 Q491.5 84 491.3 65.5 L504 65.5 Q504 73 507 73.2 Q510.5 73 509.5 68.5 Q508 64.5 501 60.5 Q491 54 491.5 45 Q493 31.2 506.5 31 Q520.5 31.3 521 49.5 Z"/></g>
<path d="M417 32.5 V82.5 M419.2 32.5 V82.5 M421.4 32.5 V82.5 M423.6 32.5 V82.5 M425.8 32.5 V82.5" stroke="#9a948f" stroke-width="0.7" fill="none"/>
</svg>
</body></html>
